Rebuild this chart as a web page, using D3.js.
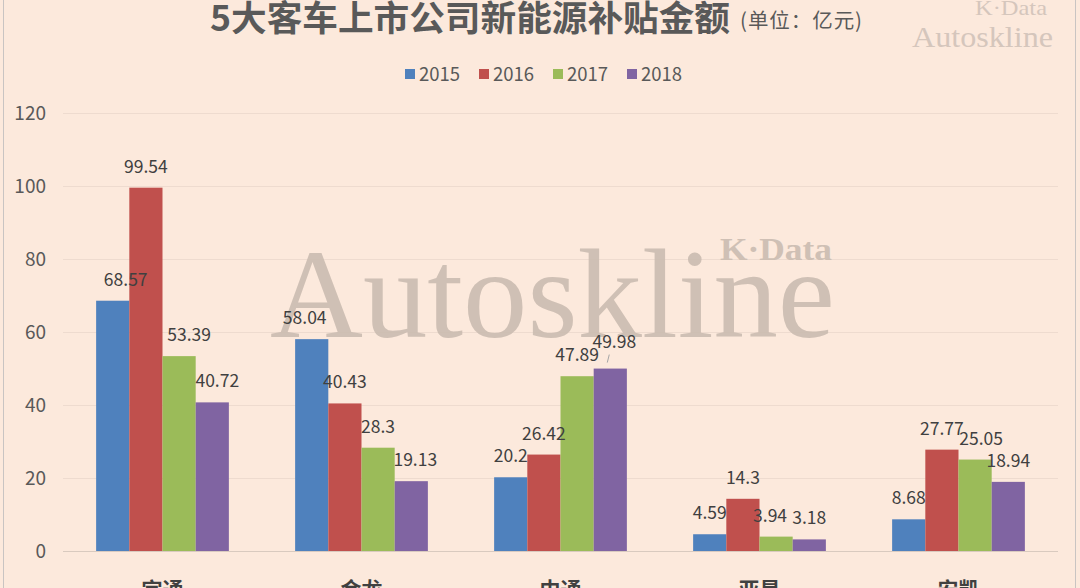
<!DOCTYPE html>
<html><head><meta charset="utf-8">
<script src="https://cdn.jsdelivr.net/npm/d3@7/dist/d3.min.js"></script>
<style>
html,body{margin:0;padding:0;background:#FCE9DC;}
svg{display:block;}
</style></head>
<body>
<svg id="chart" width="1080" height="588"></svg>
<script>
const categories = ["宇通", "金龙", "中通", "亚星", "安凯"];
const seriesNames = ["2015", "2016", "2017", "2018"];
const values2015 = [68.57, 58.04, 20.2, 4.59, 8.68];
const values2016 = [99.54, 40.43, 26.42, 14.3, 27.77];
const values2017 = [53.39, 28.3, 47.89, 3.94, 25.05];
const values2018 = [40.72, 19.13, 49.98, 3.18, 18.94];
const yTicks = [0, 20, 40, 60, 80, 100, 120];
const seriesValues = [values2015, values2016, values2017, values2018];
const colors = ["#4F81BD", "#C0504D", "#9BBB59", "#8064A2"];

const svg = d3.select("#chart");
const W = 1080, H = 588;
const font = "'Noto Sans CJK SC','Noto Sans',sans-serif";
const serif = "'Liberation Serif','DejaVu Serif',serif";

svg.append("rect").attr("width", W).attr("height", H).attr("fill", "#FCE9DC");
// sheet borders
svg.append("line").attr("x1", 3.5).attr("x2", 3.5).attr("y1", 0).attr("y2", H).attr("stroke", "#C9C4C2").attr("stroke-width", 1);
svg.append("line").attr("x1", 1075.5).attr("x2", 1075.5).attr("y1", 0).attr("y2", H).attr("stroke", "#C9C4C2").attr("stroke-width", 1);

const plot = {left: 63, right: 1058, top: 113, bottom: 551};
const y = d3.scaleLinear().domain([0, 120]).range([plot.bottom, plot.top]);
const x0 = d3.scaleBand().domain(categories).range([plot.left, plot.right]).paddingInner(0.333).paddingOuter(0.1665);
const x1 = d3.scaleBand().domain(seriesNames).range([0, x0.bandwidth()]);

// gridlines + y tick labels
const gAxis = svg.append("g").attr("transform", `translate(${plot.left},0)`)
  .call(d3.axisLeft(y).tickValues(yTicks).tickSize(-(plot.right - plot.left)).tickPadding(17));
gAxis.select(".domain").remove();
gAxis.selectAll(".tick line").attr("stroke", d => d === 0 ? "#D9CABF" : "#EEDBCF").attr("stroke-width", 1);
gAxis.selectAll(".tick text").attr("fill", "#595959").attr("font-size", 19).attr("font-family", font);

// watermark (big)
const wmColor = "#CBBCB1";
const wm = svg.append("g").attr("opacity", 0.9);
wm.append("text").attr("x", 270).attr("y", 337).attr("font-family", serif)
  .attr("font-size", 127).attr("fill", wmColor).attr("textLength", 565).attr("lengthAdjust", "spacingAndGlyphs").text("Autoskline");
wm.append("text").attr("x", 720).attr("y", 260).attr("font-family", serif)
  .attr("font-size", 32).attr("font-weight", "bold").attr("fill", wmColor)
  .attr("textLength", 112).attr("lengthAdjust", "spacingAndGlyphs").text("K·Data");

// bars
const groups = svg.append("g").selectAll("g").data(categories).join("g")
  .attr("transform", d => `translate(${x0(d)},0)`);
groups.selectAll("rect").data((c, ci) => seriesNames.map((s, si) => ({s, v: seriesValues[si][ci], si})))
  .join("rect")
  .attr("x", d => x1(d.s)).attr("width", x1.bandwidth())
  .attr("y", d => y(d.v)).attr("height", d => y(0) - y(d.v))
  .attr("fill", d => colors[d.si]);

// data labels (Excel nudges for crowded labels)
const nudge = {"0-0": [13, 0], "0-2": [10, 0], "0-3": [5, 0],
  "1-0": [-7, 0], "1-3": [4, 0], "2-3": [4, -6], "3-2": [-6, 0], "4-2": [6, 0]};
const off = d => nudge[d.ci + "-" + d.si] || [0, 0];
groups.selectAll("text.lbl").data((c, ci) => seriesNames.map((s, si) => ({s, v: seriesValues[si][ci], si, ci})))
  .join("text").attr("class", "lbl")
  .attr("x", d => x1(d.s) + x1.bandwidth() / 2 + off(d)[0])
  .attr("y", d => y(d.v) - 15 + off(d)[1])
  .attr("text-anchor", "middle").attr("font-family", font).attr("font-size", 17.5).attr("fill", "#404040")
  .text(d => d.v);
// leader line for 49.98
svg.append("line")
  .attr("x1", x0("中通") + x1("2018") + x1.bandwidth() / 2 - 1).attr("y1", y(49.98) - 14)
  .attr("x2", x0("中通") + x1("2018") + x1.bandwidth() / 2 - 3).attr("y2", y(49.98) - 6)
  .attr("stroke", "#A6A6A6").attr("stroke-width", 1);

// category labels (cut by the bottom edge as in the reference)
svg.append("g").selectAll("text").data(categories).join("text")
  .attr("x", d => x0(d) + x0.bandwidth() / 2).attr("y", 597)
  .attr("text-anchor", "middle").attr("font-family", font).attr("font-size", 21).attr("font-weight", "bold")
  .attr("fill", "#404040").text(d => d);

// title
svg.append("text").attr("x", 210).attr("y", 31).attr("font-family", font).attr("fill", "#595959")
  .attr("font-size", 35).attr("font-weight", "bold").attr("textLength", 520).attr("lengthAdjust", "spacingAndGlyphs")
  .text("5大客车上市公司新能源补贴金额");
svg.append("text").attr("x", 740).attr("y", 28).attr("font-family", font).attr("font-size", 20.5).attr("fill", "#595959")
  .attr("textLength", 122).text("(单位：亿元)");

// top-right watermark
svg.append("text").attr("x", 975).attr("y", 15).attr("font-family", serif)
  .attr("font-size", 21).attr("fill", "#D5C6BC").attr("textLength", 72).attr("lengthAdjust", "spacingAndGlyphs").text("K·Data");
svg.append("text").attr("x", 912).attr("y", 47).attr("font-family", serif)
  .attr("font-size", 30).attr("fill", "#D5C6BC").attr("textLength", 141).attr("lengthAdjust", "spacingAndGlyphs").text("Autoskline");

// legend
const legX = [405, 479, 553, 627];
const leg = svg.append("g").selectAll("g").data(seriesNames).join("g")
  .attr("transform", (d, i) => `translate(${legX[i]},74)`);
leg.append("rect").attr("x", 0).attr("y", -5).attr("width", 10).attr("height", 10).attr("fill", (d, i) => colors[i]);
leg.append("text").attr("x", 14).attr("y", 6.5).attr("font-family", font).attr("font-size", 18.5).attr("fill", "#595959").text(d => d);
</script>
</body></html>
